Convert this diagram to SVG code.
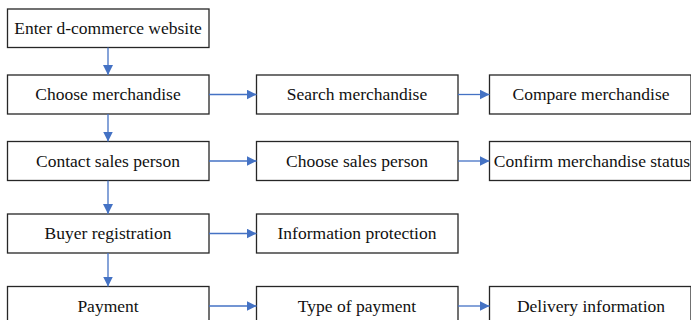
<svg xmlns="http://www.w3.org/2000/svg" width="691" height="320" viewBox="0 0 691 320">
  <style>
    .box { fill: #ffffff; stroke: #262626; stroke-width: 1.3; }
    .lbl { font-size: 17.5px; fill: #111111; text-anchor: middle; }
    .wire { fill: none; stroke: #4472c4; stroke-width: 1.3; marker-end: url(#head); }
  </style>
  <defs>
    <marker id="head" markerUnits="userSpaceOnUse" markerWidth="10" markerHeight="10" viewBox="0 0 10 10" refX="10" refY="5" orient="auto">
      <path d="M0,0 L10,5 L0,10 Z" fill="#4472c4"/>
    </marker>
  </defs>
  <rect width="691" height="320" fill="#ffffff"/>

  <g font-family="'Liberation Serif', Tinos, 'Times New Roman', 'DejaVu Serif', serif">
    <!-- main column -->
    <g id="enter">
      <rect class="box" x="7.5" y="9" width="201.5" height="38.5"/>
      <text class="lbl" x="108" y="33.5">Enter d-commerce website</text>
    </g>
    <g id="choose-merchandise">
      <rect class="box" x="7.5" y="75" width="201.5" height="39"/>
      <text class="lbl" x="108" y="100">Choose merchandise</text>
    </g>
    <g id="contact-sales">
      <rect class="box" x="7.5" y="141.5" width="201.5" height="39"/>
      <text class="lbl" x="108" y="166.5">Contact sales person</text>
    </g>
    <g id="buyer-registration">
      <rect class="box" x="7.5" y="214" width="201.5" height="39"/>
      <text class="lbl" x="108" y="239">Buyer registration</text>
    </g>
    <g id="payment">
      <rect class="box" x="7.5" y="286.5" width="201.5" height="39"/>
      <text class="lbl" x="108" y="311.5">Payment</text>
    </g>

    <!-- second column -->
    <g id="search-merchandise">
      <rect class="box" x="256.5" y="75" width="201.5" height="39"/>
      <text class="lbl" x="357" y="100">Search merchandise</text>
    </g>
    <g id="choose-sales">
      <rect class="box" x="256.5" y="141.5" width="201.5" height="39"/>
      <text class="lbl" x="357" y="166.5">Choose sales person</text>
    </g>
    <g id="info-protection">
      <rect class="box" x="256.5" y="214" width="201.5" height="39"/>
      <text class="lbl" x="357" y="239">Information protection</text>
    </g>
    <g id="payment-type">
      <rect class="box" x="256.5" y="286.5" width="201.5" height="39"/>
      <text class="lbl" x="357" y="311.5">Type of payment</text>
    </g>

    <!-- third column -->
    <g id="compare-merchandise">
      <rect class="box" x="489.5" y="75" width="201.5" height="39"/>
      <text class="lbl" x="591" y="100">Compare merchandise</text>
    </g>
    <g id="confirm-status">
      <rect class="box" x="489.5" y="141.5" width="201.5" height="39"/>
      <text class="lbl" x="592" y="166.5">Confirm merchandise status</text>
    </g>
    <g id="delivery">
      <rect class="box" x="489.5" y="286.5" width="201.5" height="39"/>
      <text class="lbl" x="591" y="311.5">Delivery information</text>
    </g>
  </g>

  <!-- connectors -->
  <g id="connectors">
    <path class="wire" d="M108,47.5 V75"/>
    <path class="wire" d="M108,114 V141.5"/>
    <path class="wire" d="M108,180.5 V214"/>
    <path class="wire" d="M108,253 V286.5"/>
    <path class="wire" d="M209,94.5 H256.5"/>
    <path class="wire" d="M209,161 H256.5"/>
    <path class="wire" d="M209,233.5 H256.5"/>
    <path class="wire" d="M209,306 H256.5"/>
    <path class="wire" d="M458,94.5 H489.5"/>
    <path class="wire" d="M458,161 H489.5"/>
    <path class="wire" d="M458,306 H489.5"/>
  </g>
</svg>
